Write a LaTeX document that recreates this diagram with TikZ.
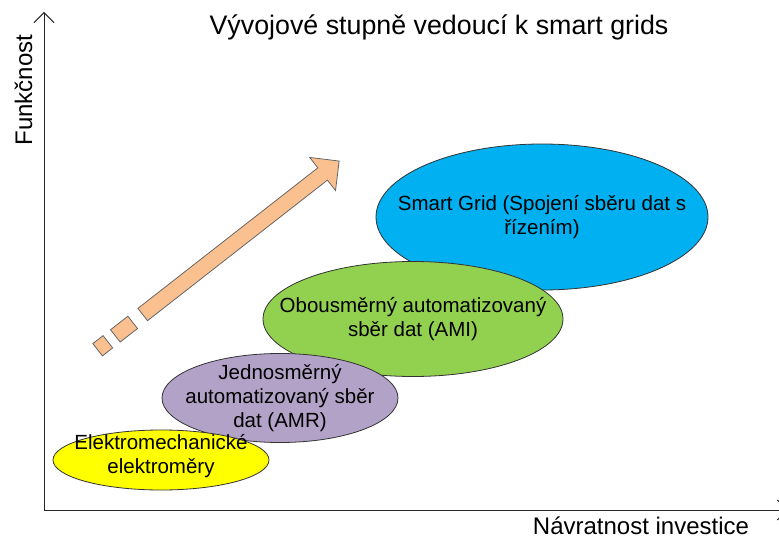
\documentclass[tikz,border=0pt]{standalone}
\usepackage{fontspec}
\setmainfont{Liberation Sans}
\usetikzlibrary{shapes.geometric,arrows.meta}
\definecolor{cblue}{HTML}{00B0F0}
\definecolor{cgreen}{HTML}{92D050}
\definecolor{cpurple}{HTML}{B3A2C7}
\definecolor{cyellow}{HTML}{FFFF00}
\definecolor{carrow}{HTML}{FAC090}
\begin{document}
\begin{tikzpicture}[x=1pt,y=-1pt,
  stageshape/.style={ellipse, draw=black!80, line width=0.8pt, inner sep=0pt},
  stagetext/.style={align=center, inner sep=0pt, font=\fontsize{20.5}{24}\selectfont},
  axisline/.style={draw=black!85, line width=0.9pt, -{Straight Barb[length=10pt,width=20pt]}},
  axislabel/.style={inner sep=0pt, font=\fontsize{24}{28}\selectfont},
  blockarrow/.style={fill=carrow, draw=black!60, line width=0.8pt, line join=miter}]
\useasboundingbox (0,0) rectangle (779,537);
\clip (0,0) rectangle (779,537);

% title
\node[anchor=base, inner sep=0pt, font=\fontsize{26.8}{32}\selectfont] (title) at (439,35) {Vývojové stupně vedoucí k smart grids};

% axes
\coordinate (O) at (44,510);
\coordinate (Ytop) at (44,12);
\coordinate (Xend) at (788,510);
\draw[axisline] (O) -- (Ytop);
\draw[axisline] (O) -- (Xend);
\node[axislabel, anchor=base, rotate=90] (ylab) at (32,90) {Funkčnost};
\node[axislabel, anchor=base] (xlab) at (641,534) {Návratnost investice};

% big arrow
\begin{scope}[shift={(102.75,345.75)}, rotate=38]
  \draw[blockarrow] (-6.5,-7.8) rectangle (6.5,7.8);
  \draw[blockarrow] (16,-7.8) rectangle (38,7.8);
  \draw[blockarrow] (50.7,-7.8) -- (279,-7.8) -- (279,-21) -- (300,0) -- (279,21) -- (279,7.8) -- (50.7,7.8) -- cycle;
\end{scope}

% stages
\node[stageshape, fill=cblue, minimum width=332pt, minimum height=146pt] (sg) at (542,217) {};
\node[stagetext] (sgt) at (sg.center) {Smart Grid (Spojení sběru dat s\\řízením)};

\node[stageshape, fill=cgreen, minimum width=300pt, minimum height=115pt] (ami) at (413,319) {};
\node[stagetext] (amit) at (ami.center) {Obousměrný automatizovaný\\sběr dat (AMI)};

\node[stageshape, fill=cpurple, minimum width=236pt, minimum height=89pt] (amr) at (280,398) {};
\node[stagetext] (amrt) at (amr.center) {Jednosměrný\\automatizovaný sběr\\dat (AMR)};

\node[stageshape, fill=cyellow, minimum width=216pt, minimum height=60pt] (em) at (161,460) {};
\node[stagetext] (emt) at ([yshift=4pt]em.center) {Elektromechanické\\elektroměry};
\end{tikzpicture}
\end{document}
